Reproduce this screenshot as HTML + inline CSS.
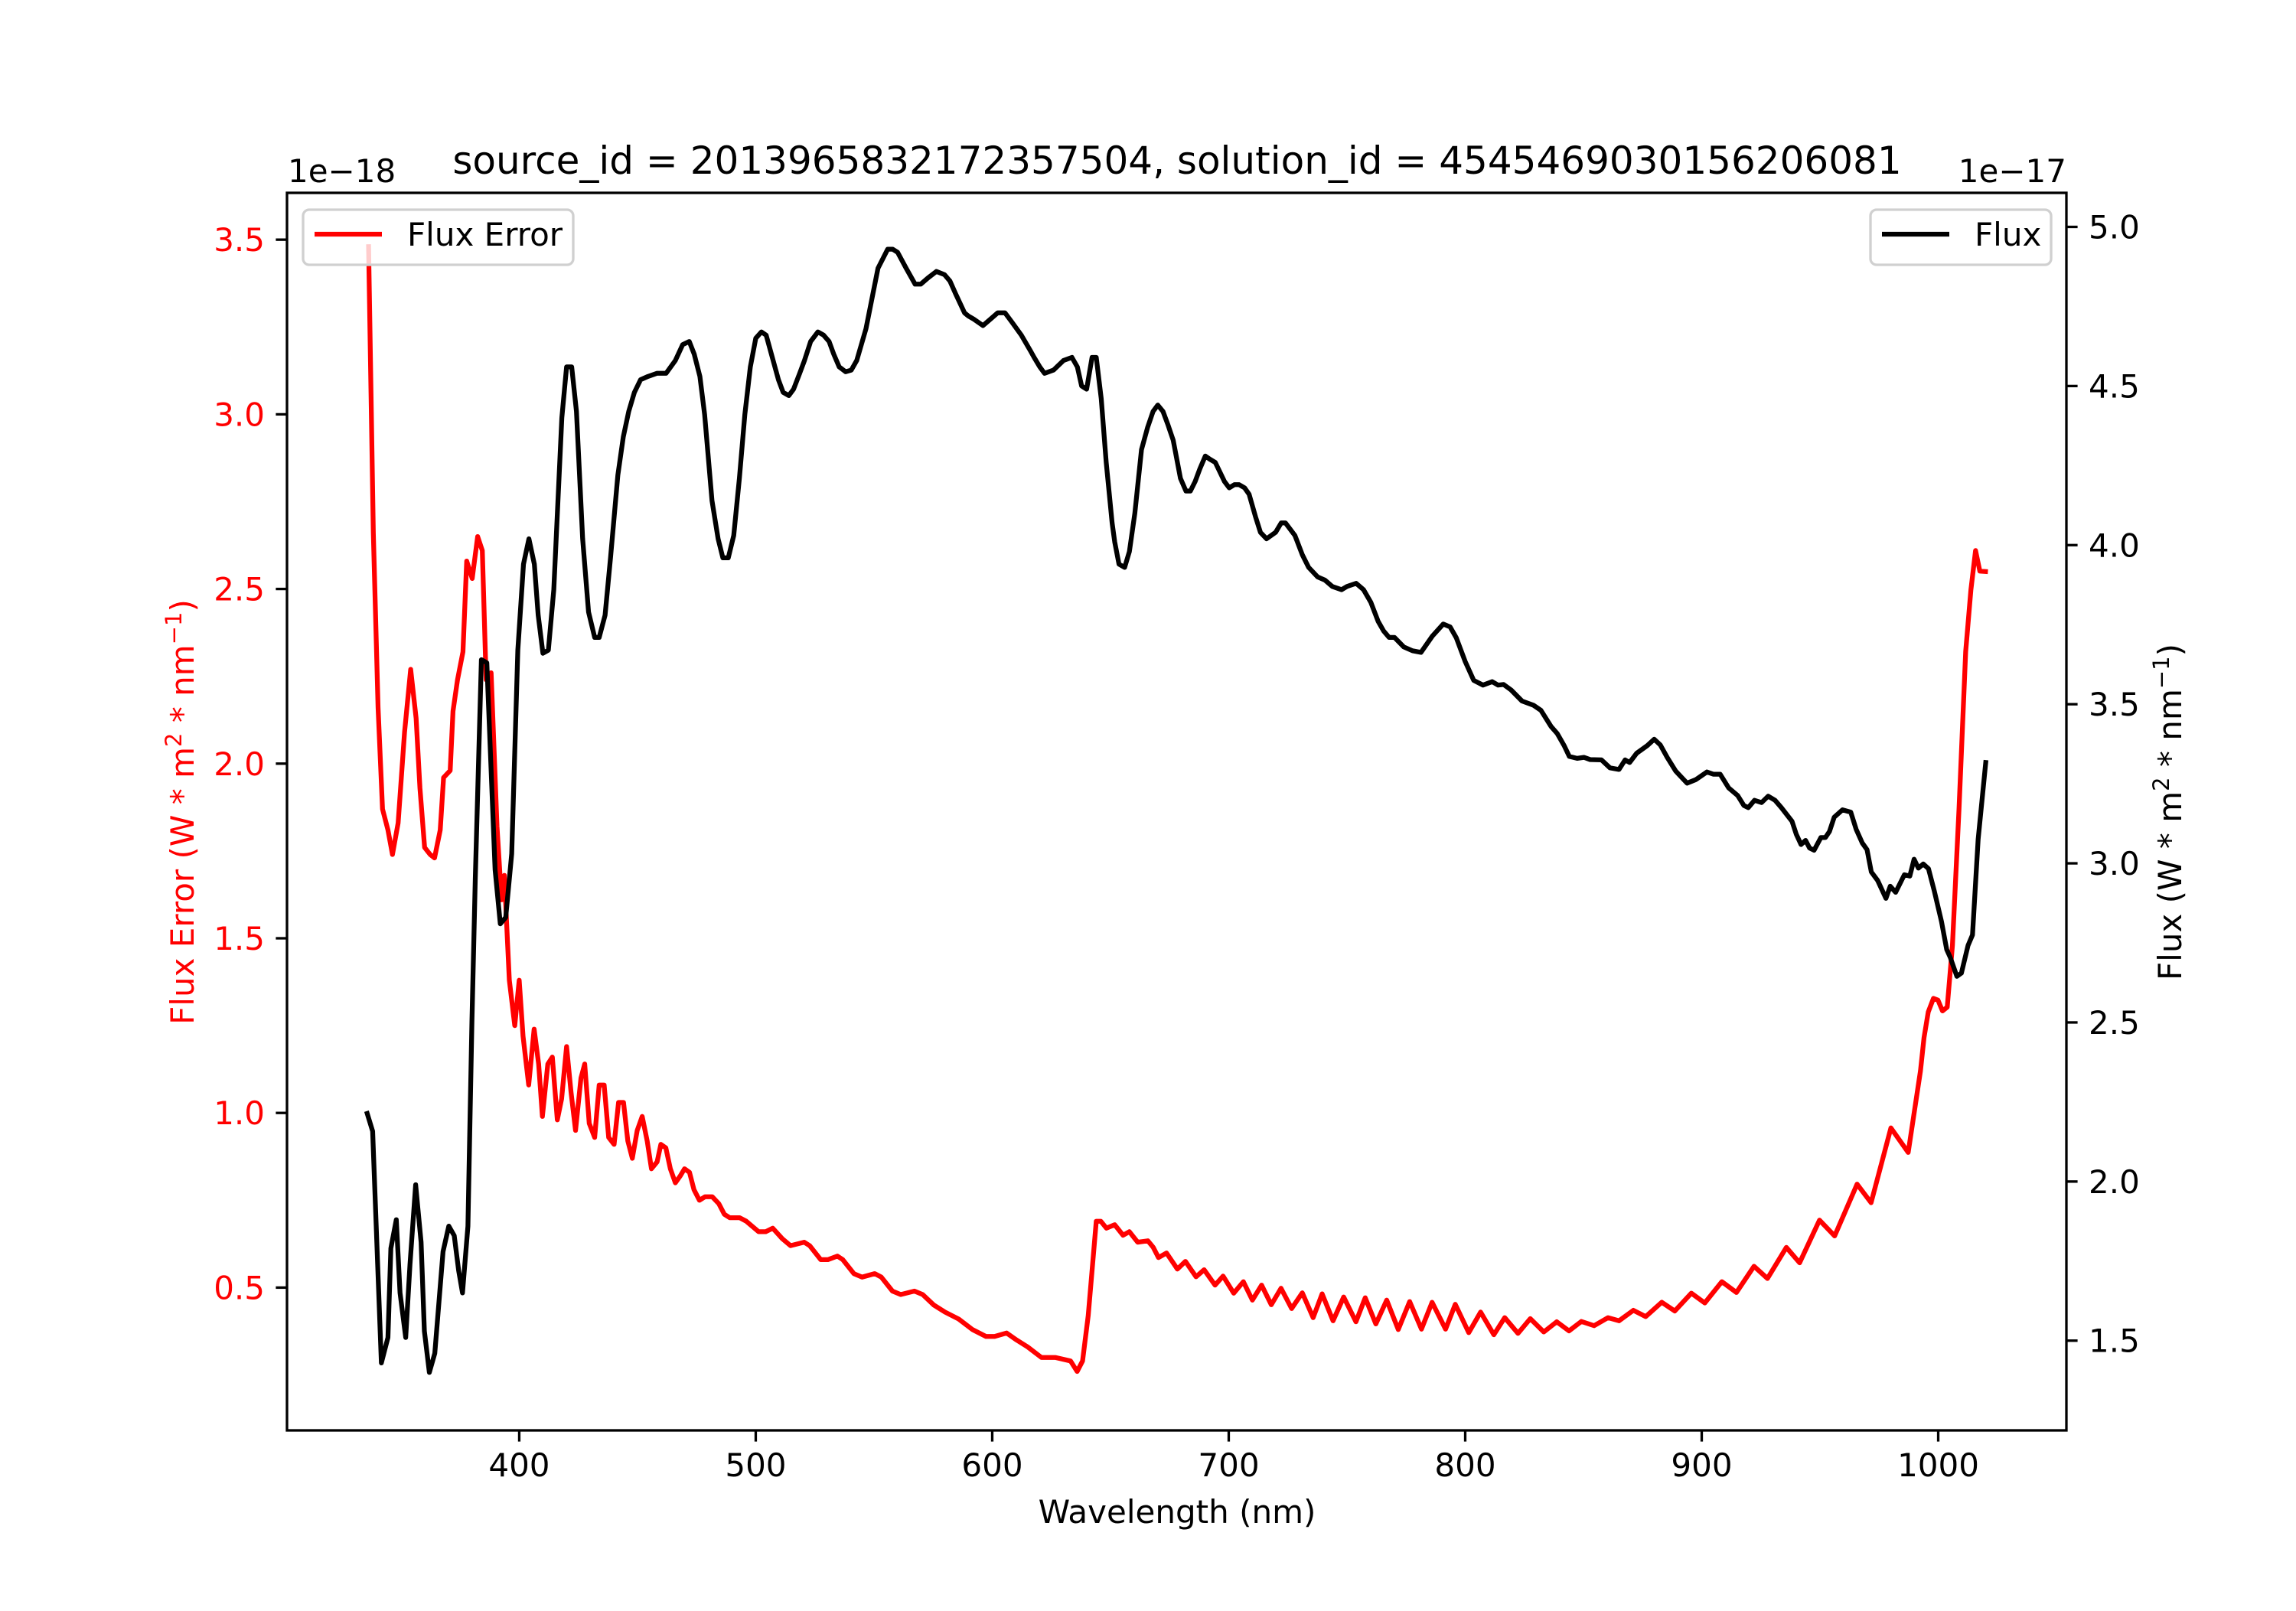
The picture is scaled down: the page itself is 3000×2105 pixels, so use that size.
<!DOCTYPE html>
<html><head><meta charset="utf-8"><style>
html,body{margin:0;padding:0;background:#fff}
svg text{font-family:"DejaVu Sans","Liberation Sans",sans-serif}
</style></head><body>
<svg id="chart" width="3000" height="2100" viewBox="0 0 3000 2100" xmlns="http://www.w3.org/2000/svg">
<rect width="3000" height="2100" fill="#fff"/>
<g id="plot"></g>
</svg>
<script>
const errWl = [336.3,338.3,340.3,342.2,344.5,346.4,348.8,351.5,354.1,356.4,358,360,362.3,364.2,366.6,368,370.8,372,373.9,376.2,377.8,380.1,382.4,384.4,386,388.1,390.6,392.5,393.7,395.8,398.1,400,401.6,404,406.3,408.2,409.8,412.1,414,416.1,417.9,420,421.9,423.8,426.1,427.7,429.6,431.9,433.8,435.9,437.8,440.1,442,444.1,445.9,447.8,449.9,452,454.1,455.9,458.3,459.9,462,463.9,466,468.1,469.9,472,473.9,476.2,478.6,481.6,484.4,486.7,489,493.2,496,501.2,504.2,507.2,511.2,514.7,520.5,522.8,527.5,530.5,534.5,536.8,541.5,545,550.3,553.1,557.8,561.3,567.1,570.6,575.3,580,585.8,591.6,597.4,601,606.1,610.3,615,620.8,626.6,633.1,635.9,638.2,640.6,644,645.9,648.3,651.8,655.3,658,661.5,665.8,668.1,670.3,673.7,678.3,681.7,686.2,689.6,694.2,697.6,702.1,706.2,710,713.9,718,722.1,726.6,731.1,735.7,739.5,744.1,748.6,753.8,757.7,762.2,766.8,771.7,776.5,781.5,786,791.7,795.8,801.5,806.5,812.1,816.7,822.3,827.5,833.2,838.7,843.9,849.1,854.5,860.4,865,871.1,876.3,883.1,888.6,895.6,901.3,908.5,914.7,922.1,927.8,935.8,941.4,949.8,956.2,965.7,971.6,980,987.3,992.5,994,995.8,998,999.9,1001.8,1003.8,1006,1008.8,1011.6,1013.8,1015.8,1017.6,1020];
const errVal = [3.48,2.66,2.16,1.87,1.81,1.74,1.83,2.09,2.27,2.13,1.93,1.76,1.74,1.73,1.81,1.96,1.98,2.15,2.24,2.32,2.58,2.53,2.65,2.61,2.24,2.26,1.82,1.61,1.68,1.38,1.25,1.38,1.22,1.08,1.24,1.14,0.99,1.14,1.16,0.98,1.04,1.19,1.06,0.95,1.10,1.14,0.97,0.93,1.08,1.08,0.93,0.91,1.03,1.03,0.92,0.87,0.95,0.99,0.92,0.84,0.86,0.91,0.90,0.84,0.80,0.82,0.84,0.83,0.78,0.75,0.76,0.76,0.74,0.71,0.70,0.70,0.69,0.66,0.66,0.67,0.64,0.62,0.63,0.62,0.58,0.58,0.59,0.58,0.54,0.53,0.54,0.53,0.49,0.48,0.49,0.48,0.45,0.43,0.41,0.38,0.36,0.36,0.37,0.35,0.33,0.30,0.30,0.29,0.26,0.29,0.42,0.69,0.69,0.67,0.68,0.65,0.66,0.63,0.634,0.615,0.586,0.599,0.553,0.575,0.531,0.551,0.507,0.533,0.484,0.517,0.464,0.507,0.451,0.498,0.440,0.485,0.414,0.482,0.405,0.473,0.402,0.471,0.396,0.464,0.380,0.460,0.381,0.458,0.381,0.452,0.371,0.430,0.365,0.414,0.369,0.411,0.373,0.402,0.376,0.403,0.391,0.414,0.405,0.435,0.417,0.458,0.433,0.484,0.456,0.517,0.486,0.561,0.526,0.615,0.571,0.693,0.648,0.796,0.743,0.957,0.887,1.12,1.216,1.289,1.328,1.323,1.292,1.303,1.48,1.871,2.321,2.497,2.61,2.551,2.55];
const fluxWl = [335.7,338,341.7,344.5,345.7,348,349.6,352,353.8,356.2,358.5,359.9,362,364.3,367.8,370.2,372.5,374.4,376,378.3,380,381.4,384,386.3,389.8,392,394.3,396.8,399.4,401.8,404.1,406.4,408,410,412.3,414.6,418,420,422.2,424.2,426.8,429.3,431.9,433.8,436.3,438.6,441.7,444,446.3,448.7,451.3,454.4,458.2,462.1,466,469.1,471.9,474,476.4,478.4,481.5,484.1,486.1,488.4,490.7,493.1,495.4,497.7,500,502.4,504.4,507,509.6,511.6,514,516,518.6,520.6,523.2,526.3,528.7,531,533,535.3,538,540.4,542.7,546.6,551.7,555.8,557.9,560,563.6,567.4,569.8,572.9,576.4,579.8,582.1,584.5,588.3,589.9,592.2,596.1,599.2,602.3,605.4,608.4,612.3,616.2,617.7,620.1,622.1,625.9,630.1,633.7,636,637.8,639.9,642.2,644,646.1,648.2,650.7,651.8,653.6,656,658,660.3,663.1,665.7,668,670,672.2,674.2,676.5,679.6,681.9,683.8,685.8,687.8,690.1,692,694.3,698.2,700.2,702.4,704.4,706.7,708.6,711.3,713.4,716,719.8,722.2,724,728,731.1,733.8,737.6,740.7,743.8,747.7,750,753.9,757,760.1,763.2,765.5,767.8,770.1,774,777.7,781.3,786.1,790.7,793.6,796.2,800,803.6,807.5,811.4,813.9,816.2,819.4,824,828.8,832,836.3,838.9,841.8,844,847.3,850.2,852.8,857.6,861.2,865,867.6,869.5,872.5,877,879.9,882.5,885.4,889,893.8,897.5,902.2,904.9,907.8,911.4,915.2,917.8,919.7,922.3,925.3,928.1,931,933.7,938.2,940,942,943.9,945.6,947.5,950.4,952.3,954,956,959.5,963,965.3,967.9,969.9,971.7,974.4,977.9,979.7,982,985.7,988,989.8,991.6,993.7,995.9,998.3,1001.4,1003.6,1005.1,1007.9,1009.8,1012.6,1014.5,1016.9,1020.1];
const fluxVal = [2.214,2.158,1.43,1.51,1.79,1.88,1.65,1.51,1.74,1.99,1.81,1.53,1.40,1.46,1.78,1.86,1.83,1.72,1.65,1.86,2.50,2.95,3.64,3.63,2.98,2.81,2.83,3.03,3.67,3.94,4.02,3.94,3.78,3.66,3.67,3.86,4.40,4.56,4.56,4.42,4.02,3.79,3.71,3.71,3.78,3.96,4.22,4.34,4.42,4.48,4.52,4.53,4.54,4.54,4.58,4.63,4.64,4.60,4.53,4.41,4.14,4.02,3.96,3.96,4.03,4.21,4.41,4.56,4.65,4.67,4.66,4.59,4.52,4.48,4.47,4.49,4.54,4.58,4.64,4.67,4.66,4.64,4.60,4.56,4.545,4.55,4.58,4.68,4.87,4.93,4.93,4.92,4.87,4.82,4.82,4.84,4.86,4.85,4.83,4.79,4.73,4.72,4.71,4.69,4.71,4.73,4.73,4.70,4.66,4.61,4.59,4.56,4.54,4.55,4.58,4.59,4.56,4.50,4.49,4.59,4.59,4.46,4.26,4.07,4.01,3.94,3.93,3.98,4.10,4.30,4.37,4.42,4.44,4.42,4.38,4.33,4.21,4.17,4.17,4.20,4.24,4.28,4.27,4.26,4.20,4.18,4.19,4.19,4.18,4.16,4.09,4.04,4.02,4.04,4.07,4.07,4.03,3.97,3.93,3.90,3.89,3.87,3.86,3.87,3.88,3.86,3.82,3.76,3.73,3.71,3.71,3.68,3.668,3.663,3.714,3.752,3.743,3.709,3.634,3.575,3.56,3.571,3.56,3.562,3.545,3.51,3.497,3.481,3.43,3.408,3.37,3.336,3.33,3.333,3.326,3.325,3.30,3.295,3.325,3.317,3.346,3.37,3.39,3.372,3.333,3.29,3.252,3.263,3.287,3.28,3.28,3.237,3.213,3.182,3.175,3.198,3.191,3.211,3.198,3.175,3.132,3.091,3.059,3.072,3.048,3.041,3.081,3.081,3.10,3.145,3.168,3.161,3.107,3.064,3.043,2.973,2.946,2.89,2.928,2.909,2.964,2.96,3.013,2.985,2.998,2.983,2.914,2.817,2.729,2.704,2.645,2.655,2.742,2.775,3.076,3.317];
const xTicks = [400,500,600,700,800,900,1000];
const leftTicks = [0.5,1.0,1.5,2.0,2.5,3.0,3.5];
const rightTicks = [1.5,2.0,2.5,3.0,3.5,4.0,4.5,5.0];

const L=375,R=2700,T=252,B=1869;
const xMin=301.8,xMax=1054.2, lMin=0.0912,lMax=3.634, rMin=1.218,rMax=5.107;
const sx=v=>L+(v-xMin)/(xMax-xMin)*(R-L);
const sl=v=>B-(v-lMin)/(lMax-lMin)*(B-T);
const sr=v=>B-(v-rMin)/(rMax-rMin)*(B-T);
const NS='http://www.w3.org/2000/svg';
const g=document.getElementById('plot');
function mk(tag,attrs,parent){const e=document.createElementNS(NS,tag);for(const k in attrs)e.setAttribute(k,attrs[k]);(parent||g).appendChild(e);return e;}

// series
let d=errWl.map((w,i)=>(i?'L':'M')+sx(w).toFixed(1)+' '+sl(errVal[i]).toFixed(1)).join(' ');
const p1=mk('path',{d:d,fill:'none',stroke:'#ff0000','stroke-width':6.25,'stroke-linejoin':'round','stroke-linecap':'square'});


d=fluxWl.map((w,i)=>(i?'L':'M')+sx(w).toFixed(1)+' '+sr(fluxVal[i]).toFixed(1)).join(' ');
const p2=mk('path',{d:d,fill:'none',stroke:'#000','stroke-width':6.25,'stroke-linejoin':'round','stroke-linecap':'square'});



// frame
const fr=mk('rect',{x:L,y:T,width:R-L,height:B-T,fill:'none',stroke:'#000','stroke-width':3.3});



// x ticks
xTicks.forEach(v=>{const x=sx(v);
 const t=mk('line',{x1:x,x2:x,y1:B,y2:B+14.6,stroke:'#000','stroke-width':3.3});
 
 
 const lb=mk('text',{x:x,y:1929,'font-size':42,'text-anchor':'middle',fill:'#000'});lb.textContent=v;
 
 
});
leftTicks.forEach(v=>{const y=sl(v);
 const t=mk('line',{x1:L-14.6,x2:L,y1:y,y2:y,stroke:'#000','stroke-width':3.3});
 
 
 const lb=mk('text',{x:L-29,y:y+15,'font-size':42,'text-anchor':'end',fill:'#ff0000'});lb.textContent=v.toFixed(1);
 
 
});
rightTicks.forEach(v=>{const y=sr(v);
 const t=mk('line',{x1:R,x2:R+14.6,y1:y,y2:y,stroke:'#000','stroke-width':3.3});
 
 
 const lb=mk('text',{x:R+29,y:y+15,'font-size':42,'text-anchor':'start',fill:'#000'});lb.textContent=v.toFixed(1);
 
 
});
</script>
<svg style="position:absolute;left:0;top:0" width="3000" height="2100" viewBox="0 0 3000 2100" xmlns="http://www.w3.org/2000/svg">
<text x="1538" y="227" font-size="50" text-anchor="middle" font-family="DejaVu Sans, Liberation Sans, sans-serif">source_id = 2013965832172357504, solution_id = 4545469030156206081</text>
<text x="376" y="238" font-size="42" font-family="DejaVu Sans, Liberation Sans, sans-serif">1e−18</text>
<text x="2700" y="238" font-size="42" text-anchor="end" font-family="DejaVu Sans, Liberation Sans, sans-serif">1e−17</text>
<text x="1538" y="1990" font-size="42" text-anchor="middle" font-family="DejaVu Sans, Liberation Sans, sans-serif">Wavelength (nm)</text>
<text transform="translate(253,1061) rotate(-90)" font-size="42" text-anchor="middle" fill="#ff0000" font-family="DejaVu Sans, Liberation Sans, sans-serif">Flux Error (W * m<tspan font-size="29" dy="-16">2</tspan><tspan dy="16"> * nm</tspan><tspan font-size="29" dy="-16">−1</tspan><tspan dy="16">)</tspan></text>
<text transform="translate(2850,1061) rotate(-90)" font-size="42" text-anchor="middle" fill="#000" font-family="DejaVu Sans, Liberation Sans, sans-serif">Flux (W * m<tspan font-size="29" dy="-16">2</tspan><tspan dy="16"> * nm</tspan><tspan font-size="29" dy="-16">−1</tspan><tspan dy="16">)</tspan></text>
<g>
<rect x="396" y="274" width="353" height="72" rx="8" fill="#fff" fill-opacity="0.8" stroke="#d0d0d0" stroke-width="3.3"/>
<line x1="411" y1="306" x2="499" y2="306" stroke="#ff0000" stroke-width="6.25"/>
<text x="532" y="321" font-size="42" font-family="DejaVu Sans, Liberation Sans, sans-serif">Flux Error</text>
</g>
<g>
<rect x="2444" y="274" width="236" height="72" rx="8" fill="#fff" fill-opacity="0.8" stroke="#d0d0d0" stroke-width="3.3"/>
<line x1="2459" y1="306" x2="2547" y2="306" stroke="#000" stroke-width="6.25"/>
<text x="2580" y="321" font-size="42" font-family="DejaVu Sans, Liberation Sans, sans-serif">Flux</text>
</g>
</svg>
</body></html>
